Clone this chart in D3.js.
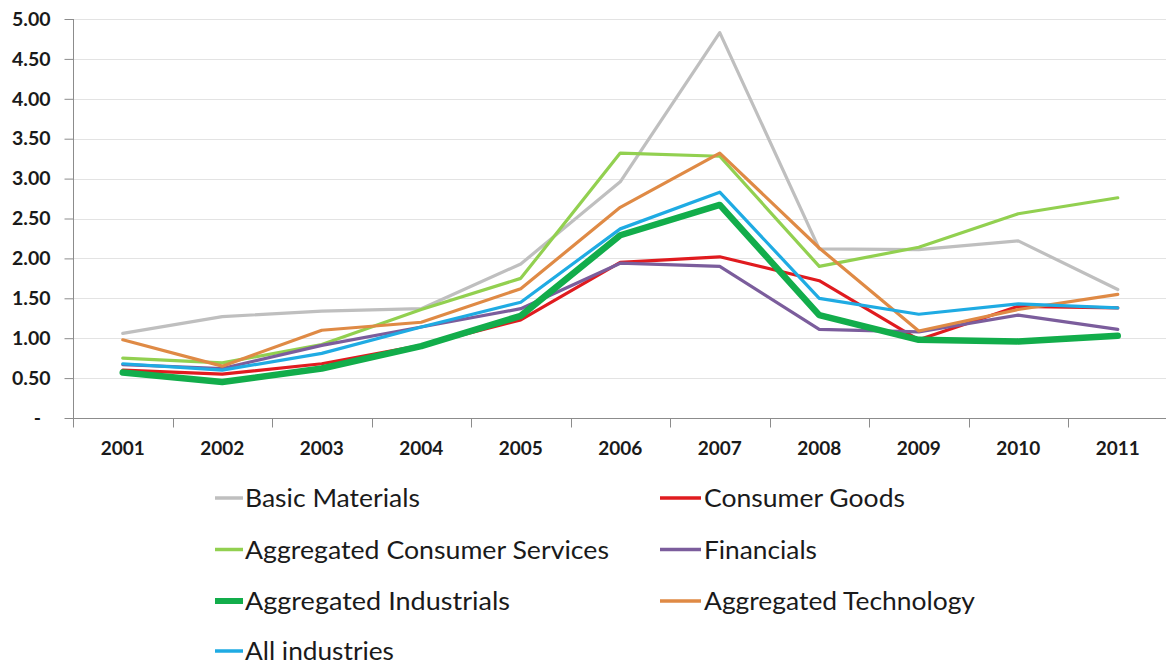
<!DOCTYPE html>
<html>
<head>
<meta charset="utf-8">
<script src="https://cdn.jsdelivr.net/npm/d3@7"></script>
<style>
  html, body { margin: 0; padding: 0; background: #fff; }
  svg { display: block; }
</style>
</head>
<body>
<svg id="chart" width="1166" height="664"></svg>
<script>
// Years on the category axis
const years = ["2001","2002","2003","2004","2005","2006","2007","2008","2009","2010","2011"];

// Y axis tick values and their labels
const yTicks = [0, 0.5, 1, 1.5, 2, 2.5, 3, 3.5, 4, 4.5, 5];
const yTickLabels = ["-", "0.50", "1.00", "1.50", "2.00", "2.50", "3.00", "3.50", "4.00", "4.50", "5.00"];

// Series values by year
const basicMaterials     = [1.06, 1.27, 1.34, 1.37, 1.93, 2.96, 4.83, 2.12, 2.11, 2.22, 1.61];
const consumerGoods      = [0.60, 0.55, 0.68, 0.91, 1.23, 1.95, 2.02, 1.72, 0.98, 1.40, 1.38];
const consumerServices   = [0.75, 0.69, 0.92, 1.36, 1.75, 3.32, 3.28, 1.90, 2.14, 2.56, 2.76];
const financials         = [0.67, 0.62, 0.91, 1.14, 1.37, 1.94, 1.90, 1.11, 1.08, 1.29, 1.11];
const industrials        = [0.57, 0.45, 0.62, 0.90, 1.28, 2.29, 2.67, 1.29, 0.98, 0.96, 1.03];
const technology         = [0.98, 0.65, 1.10, 1.20, 1.62, 2.64, 3.32, 2.13, 1.09, 1.36, 1.55];
const allIndustries      = [0.68, 0.60, 0.81, 1.14, 1.45, 2.37, 2.83, 1.50, 1.30, 1.43, 1.38];

const seriesNames = ["Basic Materials", "Consumer Goods", "Aggregated Consumer Services",
                     "Financials", "Aggregated Industrials", "Aggregated Technology", "All industries"];

const series = [
  { name: seriesNames[0], values: basicMaterials,   color: "#bfbfbf", width: 3.2 },
  { name: seriesNames[1], values: consumerGoods,    color: "#e01b1f", width: 3.2 },
  { name: seriesNames[2], values: consumerServices, color: "#92d050", width: 3.2 },
  { name: seriesNames[3], values: financials,       color: "#7b5d9c", width: 3.2 },
  { name: seriesNames[4], values: industrials,      color: "#12ad4b", width: 6.5 },
  { name: seriesNames[5], values: technology,       color: "#df8a45", width: 3.2 },
  { name: seriesNames[6], values: allIndustries,    color: "#1fabe3", width: 3.2 }
];

const svg = d3.select("#chart");

const plot = { left: 73, top: 19, bottom: 418, right: 1167.5 };

const x = d3.scaleBand().domain(years).range([plot.left, plot.right]).padding(0);
const y = d3.scaleLinear().domain([0, 5]).range([plot.bottom, plot.top]);

// Horizontal gridlines
svg.append("g")
  .selectAll("line")
  .data(yTicks.filter(d => d > 0))
  .join("line")
  .attr("x1", plot.left).attr("x2", plot.right)
  .attr("y1", d => Math.round(y(d)) + 0.5).attr("y2", d => Math.round(y(d)) + 0.5)
  .attr("stroke", "#e3e3e3").attr("stroke-width", 1);

// Y axis
const yAxis = d3.axisLeft(y)
  .tickValues(yTicks)
  .tickSize(9)
  .tickPadding(0)
  .tickFormat((d, i) => yTickLabels[i]);

const gy = svg.append("g")
  .attr("transform", `translate(${plot.left + 0.5},0)`)
  .call(yAxis);
gy.select(".domain").attr("stroke", "#8c8c8c").attr("d", `M0,${plot.top}V${plot.bottom}`);
gy.selectAll(".tick line").attr("stroke", "#8c8c8c");
gy.selectAll(".tick text")
  .attr("x", d => d === 0 ? -36 : -23)
  .attr("text-anchor", d => d === 0 ? "middle" : "end")
  .attr("font-family", "Lato, 'Open Sans', sans-serif")
  .attr("font-weight", "bold")
  .attr("font-size", 19.5)
  .attr("fill", "#1a1a1a");

// X axis with ticks at category boundaries
const gx = svg.append("g")
  .attr("transform", `translate(0,${plot.bottom + 0.5})`);
gx.append("line")
  .attr("x1", plot.left - 8).attr("x2", plot.right)
  .attr("stroke", "#8c8c8c");
gx.selectAll("line.tk")
  .data(years)
  .join("line")
  .attr("class", "tk")
  .attr("x1", d => Math.round(x(d)) + 0.5).attr("x2", d => Math.round(x(d)) + 0.5)
  .attr("y1", 0).attr("y2", 9)
  .attr("stroke", "#8c8c8c");
gx.selectAll("text")
  .data(years)
  .join("text")
  .attr("x", d => x(d) + x.bandwidth() / 2)
  .attr("y", 36)
  .attr("text-anchor", "middle")
  .attr("font-family", "Lato, 'Open Sans', sans-serif")
  .attr("font-weight", "bold")
  .attr("font-size", 19)
  .attr("fill", "#1a1a1a")
  .text(d => d);

// Lines
const line = d3.line()
  .x((d, i) => x(years[i]) + x.bandwidth() / 2)
  .y(d => y(d));

svg.append("g")
  .selectAll("path")
  .data(series)
  .join("path")
  .attr("d", d => line(d.values))
  .attr("fill", "none")
  .attr("stroke", d => d.color)
  .attr("stroke-width", d => d.width)
  .attr("stroke-linejoin", "round")
  .attr("stroke-linecap", "round");

// Legend: two columns
const legendLayout = [
  { name: seriesNames[0], col: 0, row: 0, textWidth: 175 },
  { name: seriesNames[1], col: 1, row: 0, textWidth: 201 },
  { name: seriesNames[2], col: 0, row: 1, textWidth: 364 },
  { name: seriesNames[3], col: 1, row: 1, textWidth: 113 },
  { name: seriesNames[4], col: 0, row: 2, textWidth: 265 },
  { name: seriesNames[5], col: 1, row: 2, textWidth: 271 },
  { name: seriesNames[6], col: 0, row: 3, textWidth: 149 }
];
const colSwatch = [[215, 243], [660, 701]];
const colText = [245, 704];
const rowY = [498, 549.5, 601, 651];

const legend = svg.append("g");
legendLayout.forEach(item => {
  const s = series.find(d => d.name === item.name);
  const ly = rowY[item.row];
  legend.append("line")
    .attr("x1", colSwatch[item.col][0]).attr("x2", colSwatch[item.col][1])
    .attr("y1", ly).attr("y2", ly)
    .attr("stroke", s.color)
    .attr("stroke-width", s.width > 4 ? 6 : 3.5);
  legend.append("text")
    .attr("x", colText[item.col])
    .attr("y", ly + 9)
    .attr("font-family", "Lato, 'Open Sans', sans-serif")
    .attr("font-size", 25)
    .attr("fill", "#1a1a1a")
    .attr("textLength", item.textWidth)
    .attr("lengthAdjust", "spacingAndGlyphs")
    .text(item.name);
});
</script>
</body>
</html>
